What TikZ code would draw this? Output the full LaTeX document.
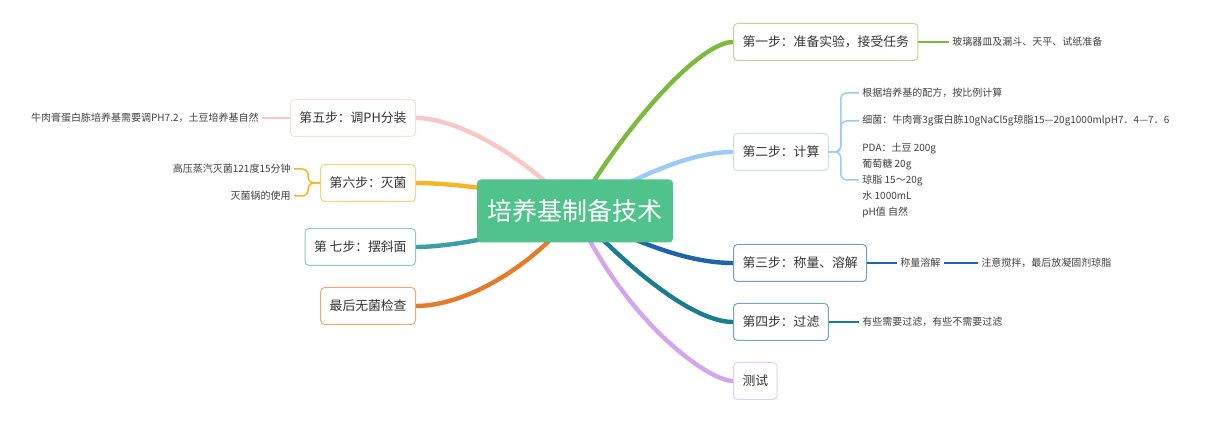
\documentclass[tikz,border=0pt]{standalone}
\usepackage{fontspec}
\setmainfont{Noto Sans CJK SC}
\usetikzlibrary{backgrounds,calc}

\definecolor{rootgreen}{RGB}{80,194,139}
\definecolor{cGreen}{RGB}{125,185,60}
\definecolor{cGreenL}{RGB}{182,219,146}
\definecolor{cBlue}{RGB}{154,203,247}
\definecolor{cBlueL}{RGB}{196,224,249}
\definecolor{cDBlue}{RGB}{30,100,170}
\definecolor{cDBlueL}{RGB}{110,160,207}
\definecolor{cTeal}{RGB}{26,125,143}
\definecolor{cTealL}{RGB}{111,170,183}
\definecolor{cPurple}{RGB}{211,165,234}
\definecolor{cPurpleL}{RGB}{228,204,242}
\definecolor{cPink}{RGB}{249,198,198}
\definecolor{cPinkL}{RGB}{251,220,220}
\definecolor{cYellow}{RGB}{246,181,39}
\definecolor{cYellowL}{RGB}{249,209,127}
\definecolor{cCyan}{RGB}{58,159,167}
\definecolor{cCyanL}{RGB}{140,199,204}
\definecolor{cOrange}{RGB}{229,123,42}
\definecolor{cOrangeL}{RGB}{240,168,119}

\begin{document}
\begin{tikzpicture}[x=0.5pt, y=-0.5pt,
    topicbox/.style={fill=rootgreen, text=white, rounded corners=2pt,
        minimum width=98pt, minimum height=31.5pt, font=\fontsize{12.5}{15}\selectfont},
    stepbox/.style={draw=#1, fill=white, rounded corners=2pt, line width=0.5pt,
        minimum height=18.5pt, inner xsep=4.5pt, text=black!80,
        font=\fontsize{6.4}{8}\selectfont},
    leaftext/.style={inner sep=1.5pt, text=black!75, align=left,
        font=\fontsize{5}{8}\selectfont},
    branchline/.style={draw=#1, line width=2.2pt, line cap=round},
    twigline/.style={draw=#1, line width=0.75pt}]
    \useasboundingbox (0,0) rectangle (1214,421);

    % 中心主题
    \node[topicbox] (root) at (575,211) {培养基制备技术};

    % 右侧：第一步 ~ 第四步、测试
    \node[stepbox=cGreenL, anchor=west] (s1) at (733,42) {第一步：准备实验，接受任务};
    \node[leaftext, anchor=west] (l1) at (949,42) {玻璃器皿及漏斗、天平、试纸准备};

    \node[stepbox=cBlueL, anchor=west] (s2) at (733,152) {第二步：计算};
    \node[leaftext, anchor=west] (l2a) at (859,93) {根据培养基的配方，按比例计算};
    \node[leaftext, anchor=west] (l2b) at (859,121) {细菌：牛肉膏3g蛋白胨10gNaCl5g琼脂15—20g1000mlpH7．4—7．6};
    \node[leaftext, anchor=west] (l2c) at (859,180) {PDA：土豆 200g\\葡萄糖 20g\\琼脂 15～20g\\水 1000mL\\pH值 自然};

    \node[stepbox=cDBlueL, anchor=west] (s3) at (733,263) {第三步：称量、溶解};
    \node[leaftext, anchor=west] (l3a) at (897,263) {称量溶解};
    \node[leaftext, anchor=west] (l3b) at (978,263) {注意搅拌，最后放凝固剂琼脂};

    \node[stepbox=cTealL, anchor=west] (s4) at (733,322) {第四步：过滤};
    \node[leaftext, anchor=west] (l4) at (859,322) {有些需要过滤，有些不需要过滤};

    \node[stepbox=cPurpleL, anchor=west] (s0) at (733,381) {测试};

    % 左侧：第五步 ~ 最后
    \node[stepbox=cPinkL, anchor=east] (s5) at (416,118) {第五步：调PH分装};
    \node[leaftext, anchor=east] (l5) at (262,118) {牛肉膏蛋白胨培养基需要调PH7.2，土豆培养基自然};

    \node[stepbox=cYellowL, anchor=east] (s6) at (416,183) {第六步：灭菌};
    \node[leaftext, anchor=east] (l6a) at (294,169) {高压蒸汽灭菌121度15分钟};
    \node[leaftext, anchor=east] (l6b) at (294,196) {灭菌锅的使用};

    \node[stepbox=cCyanL, anchor=east] (s7) at (416,247) {第 七步：摆斜面};
    \node[stepbox=cOrangeL, anchor=east] (s8) at (416,306) {最后无菌检查};

    % 分支
    \begin{scope}[on background layer]
        \draw[branchline=cGreen] (root.center) .. controls +(60,-100) and +(-30,0) .. (s1.west);
        \draw[branchline=cBlue] (root.center) .. controls +(65,-36) and +(-43,0) .. (s2.west);
        \draw[branchline=cDBlue] (root.center) .. controls +(65,34) and +(-43,0) .. (s3.west);
        \draw[branchline=cTeal] (root.center) .. controls +(45,49) and +(-43,0) .. (s4.west);
        \draw[branchline=cPurple] (root.center) .. controls +(50,110) and +(-25,0) .. (s0.west);
        \draw[branchline=cPink] (root.center) .. controls +(-45,-51) and +(44,0) .. (s5.east);
        \draw[branchline=cYellow] (root.center) .. controls +(-55,-21) and +(34,0) .. (s6.east);
        \draw[branchline=cCyan] (root.center) .. controls +(-55,24) and +(34,0) .. (s7.east);
        \draw[branchline=cOrange] (root.center) .. controls +(-35,49) and +(54,0) .. (s8.east);
    \end{scope}

    % 子节点连线
    \draw[twigline=cGreen] (s1.east) -- (l1.west);
    \foreach \leaf in {l2a,l2b,l2c}
        \draw[twigline=cBlue, rounded corners=3pt] (s2.east) -- ($(s2.east)+(12,0)$) |- (\leaf.west);
    \draw[twigline=cDBlue] (s3.east) -- (l3a.west);
    \draw[twigline=cDBlue] (l3a.east) -- (l3b.west);
    \draw[twigline=cTeal] (s4.east) -- (l4.west);
    \draw[twigline=cPink] (s5.west) -- (l5.east);
    \foreach \leaf in {l6a,l6b}
        \draw[twigline=cYellow, rounded corners=3pt] (s6.west) -- ($(s6.west)+(-12,0)$) |- (\leaf.east);
\end{tikzpicture}
\end{document}
